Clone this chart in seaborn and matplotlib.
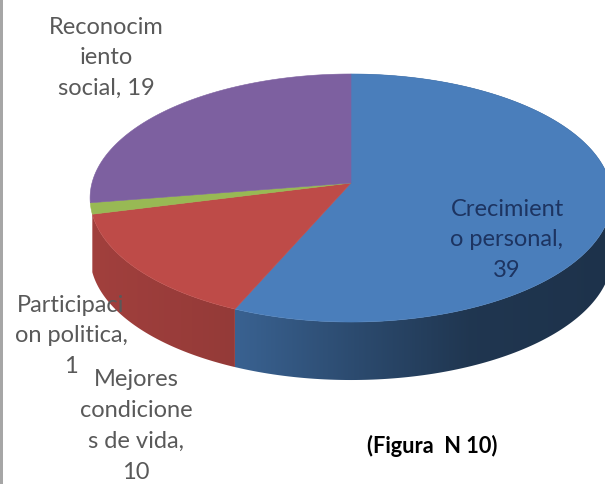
import numpy as np
import seaborn as sns
from matplotlib import pyplot as plt
from matplotlib.colors import to_rgb
from matplotlib.patches import Polygon

categories = ["Crecimiento personal", "Mejores condiciones de vida", "Participacion politica", "Reconocimiento social"]
values = [39, 10, 1, 19]
label_texts = ["Crecimient\no personal,\n39", "Mejores\ncondicione\ns de vida,\n10", "Participaci\non politica,\n1", "Reconocim\niento\nsocial, 19"]
slice_colors = ["#4a7ebb", "#be4b48", "#98b954", "#7d60a0"]
wall_visible = [True, True, False, False]
caption = "(Figura  N 10)"

# 3d look: apex position, perspective and thickness in pixels
CX, CY = 351, 184
RX, RY, PERSP = 259, 122.2, 0.121
DEPTH = 58


def project(theta):
    # theta runs clockwise from the top of the pie
    u, v = np.sin(theta), np.cos(theta)
    return CX + RX * u / (1 + PERSP * v), CY - RY * v / (1 + PERSP * v)


sns.set_theme(style="white")
plt.rcParams["font.family"] = ["Lato", "DejaVu Sans"]

fig = plt.figure(figsize=(6.05, 4.85), dpi=100)
ax = fig.add_axes([0, 0, 1, 1])
ax.axis("off")

# window border on the left
ax.axvspan(0, 3, color="#a6a6a6", lw=0)

edges = np.cumsum([0] + values) / sum(values) * 2 * np.pi

# side wall: horizontal shading clipped to each slice
px = np.arange(605)
shade = np.interp(px, [88, 233, 350, 470, 605], [0.85, 0.78, 0.6, 0.43, 0.4])
for i, color in enumerate(slice_colors):
    if not wall_visible[i]:
        continue
    t = np.linspace(edges[i], edges[i + 1], 200)
    x, y = project(t)
    wall = Polygon(np.c_[np.r_[x, x[::-1]], np.r_[y, y[::-1] + DEPTH]], closed=True, transform=ax.transData, fc="none", ec="none")
    ax.add_patch(wall)
    img = shade[None, :, None] * np.array(to_rgb(color))[None, None, :]
    im = ax.imshow(img, extent=(0, 605, 485, 0), aspect="auto", zorder=2)
    im.set_clip_path(wall)

ax.set_xlim(0, 605)
ax.set_ylim(485, 0)

# top surface
for i, color in enumerate(slice_colors):
    t = np.linspace(edges[i], edges[i + 1], 200)
    x, y = project(t)
    ax.fill(np.r_[CX, x], np.r_[CY, y], color=color, lw=0.4, zorder=3)

ax.text(507, 240, label_texts[0], color="#1d3461", fontsize=17, ha="center", va="center", linespacing=1.57, zorder=5)
ax.text(136, 426, label_texts[1], color="#595959", fontsize=17, ha="center", va="center", linespacing=1.57, zorder=5)
ax.text(71, 336, label_texts[2], color="#595959", fontsize=17, ha="center", va="center", linespacing=1.57, zorder=5)
ax.text(106, 58, label_texts[3], color="#595959", fontsize=17, ha="center", va="center", linespacing=1.57, zorder=5)
ax.text(432, 446, caption, color="black", fontsize=15.7, fontweight="bold", ha="center", va="center", zorder=5)

fig.savefig("out.png", dpi=100)
